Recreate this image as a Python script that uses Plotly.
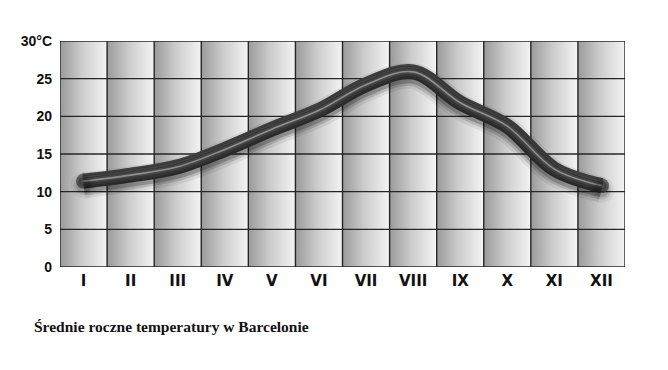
import plotly.graph_objects as go

months = ["I", "II", "III", "IV", "V", "VI", "VII", "VIII", "IX", "X", "XI", "XII"]
temps = [11.4, 12.2, 13.3, 15.6, 18.3, 20.8, 24.2, 25.9, 21.8, 18.7, 13.0, 10.8]
y_ticks = [0, 5, 10, 15, 20, 25, 30]
y_labels = ["0", "5", "10", "15", "20", "25", "30°C"]
caption = "Średnie roczne temperatury w Barcelonie"

xs = list(range(1, len(months) + 1))
ymin, ymax = y_ticks[0], y_ticks[-1]
shadow_shift = 0.55  # drop-shadow offset (axis units) via overlaid axis

fig = go.Figure()

# gradient columns
for x in xs:
    fig.add_trace(go.Scatter(
        x=[x - 0.5, x + 0.5, x + 0.5, x - 0.5, x - 0.5],
        y=[ymin, ymin, ymax, ymax, ymin],
        mode="lines", line=dict(width=0), fill="toself",
        fillgradient=dict(type="horizontal",
                          colorscale=[[0, "#9a9a9a"], [0.45, "#cbcbcb"], [1, "#f4f4f4"]]),
        hoverinfo="skip", showlegend=False))

# grid lines
gx, gy = [], []
for x in xs + [xs[-1] + 1]:
    gx += [x - 0.5, x - 0.5, None]
    gy += [ymin, ymax, None]
for t in y_ticks:
    gx += [xs[0] - 0.5, xs[-1] + 0.5, None]
    gy += [t, t, None]
fig.add_trace(go.Scatter(x=gx, y=gy, mode="lines", line=dict(color="#262626", width=1.4),
                         hoverinfo="skip", showlegend=False))


def tube(width, color, yaxis="y"):
    fig.add_trace(go.Scatter(
        x=xs, y=temps, mode="lines+markers", yaxis=yaxis,
        line=dict(shape="spline", smoothing=1.0, width=width, color=color),
        marker=dict(size=[width] + [0] * (len(xs) - 2) + [width],
                    color=color, line=dict(width=0)),
        hoverinfo="skip", showlegend=False))


# soft drop shadow (drawn on a slightly shifted overlaid axis)
tube(26, "rgba(0,0,0,0.07)", "y2")
tube(20, "rgba(0,0,0,0.14)", "y2")
tube(15, "rgba(0,0,0,0.22)", "y2")
# tube body, inner tone, highlight
tube(15, "#454545")
tube(10, "#575757")
tube(5, "#727272")
tube(1.6, "#e6e6e6")

fig.update_layout(
    width=660, height=362,
    margin=dict(l=52, r=43, t=33, b=103),
    paper_bgcolor="white", plot_bgcolor="white",
    xaxis=dict(range=[0.5, 12.5], tickvals=xs, ticktext=months, showgrid=False,
               zeroline=False, showline=False, ticks="", ticklabelstandoff=3,
               tickfont=dict(family="DejaVu Sans", size=15, color="#111111", weight="bold")),
    yaxis=dict(range=[ymin, ymax], tickvals=y_ticks, ticktext=y_labels, showgrid=False,
               zeroline=False, showline=False, ticks="", ticklabelstandoff=7,
               tickfont=dict(family="Liberation Sans", size=14, color="#111111", weight="bold")),
    yaxis2=dict(range=[ymin + shadow_shift, ymax + shadow_shift], overlaying="y",
                visible=False),
    annotations=[dict(text=caption, xref="paper", yref="paper", x=-0.05, y=-0.262,
                      xanchor="left", yanchor="middle", showarrow=False,
                      font=dict(family="Liberation Serif", size=15.5, color="#111111", weight="bold"))],
)

fig.write_html("out.html")
